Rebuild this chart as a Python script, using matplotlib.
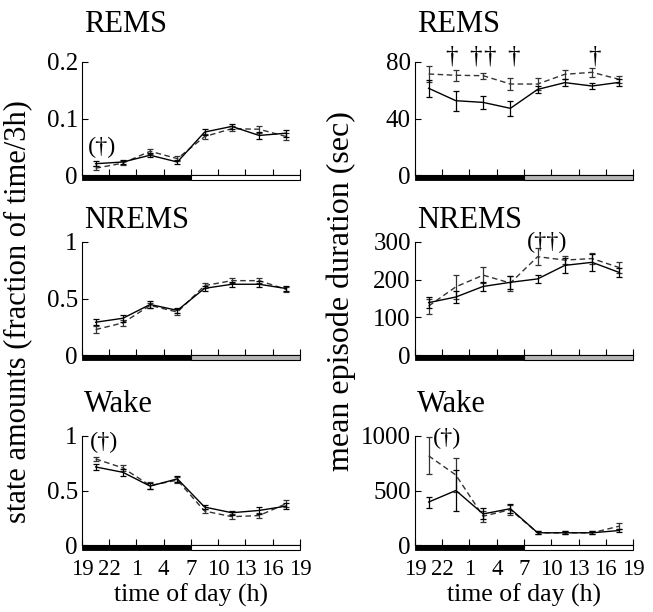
import matplotlib
matplotlib.use('Agg')
import matplotlib.pyplot as plt
from matplotlib.patches import Rectangle
from matplotlib.transforms import ScaledTranslation, blended_transform_factory

plt.rcParams['font.family'] = ['Liberation Serif', 'DejaVu Serif']

# ---- data ----
hours = [1.5, 4.5, 7.5, 10.5, 13.5, 16.5, 19.5, 22.5]
tick_pos = [0, 3, 6, 9, 12, 15, 18, 21, 24]
tick_labels = ['19', '22', '1', '4', '7', '10', '13', '16', '19']

rems_amt_solid = [0.020, 0.023, 0.035, 0.023, 0.076, 0.086, 0.070, 0.074]
rems_amt_solid_err = [0.004, 0.004, 0.004, 0.004, 0.005, 0.004, 0.006, 0.006]
rems_amt_dash = [0.012, 0.021, 0.042, 0.029, 0.068, 0.082, 0.081, 0.068]
rems_amt_dash_err = [0.004, 0.004, 0.004, 0.004, 0.004, 0.004, 0.006, 0.006]

nrems_amt_solid = [0.29, 0.325, 0.447, 0.395, 0.59, 0.626, 0.626, 0.588]
nrems_amt_solid_err = [0.025, 0.03, 0.03, 0.025, 0.02, 0.02, 0.025, 0.02]
nrems_amt_dash = [0.225, 0.284, 0.439, 0.38, 0.614, 0.658, 0.658, 0.58]
nrems_amt_dash_err = [0.03, 0.03, 0.025, 0.03, 0.02, 0.02, 0.02, 0.02]

wake_amt_solid = [0.716, 0.667, 0.54, 0.607, 0.348, 0.296, 0.317, 0.357]
wake_amt_solid_err = [0.025, 0.03, 0.03, 0.03, 0.02, 0.02, 0.03, 0.025]
wake_amt_dash = [0.79, 0.707, 0.546, 0.595, 0.311, 0.26, 0.27, 0.38]
wake_amt_dash_err = [0.02, 0.03, 0.03, 0.03, 0.02, 0.02, 0.025, 0.03]

rems_dur_solid = [61.4, 52.6, 51.4, 47.2, 60.6, 65.4, 63.0, 65.6]
rems_dur_solid_err = [6, 7, 4.5, 5.5, 2.5, 2.5, 2, 2.5]
rems_dur_dash = [71.5, 70.6, 70.3, 64.4, 64.4, 71.3, 72.7, 67.7]
rems_dur_dash_err = [5.5, 4, 2, 4, 4, 3, 3, 2.5]

nrems_dur_solid = [139, 154, 182, 193, 202, 238, 246, 219]
nrems_dur_solid_err = [15, 15, 12, 18, 10, 20, 22, 12]
nrems_dur_dash = [130, 181, 212, 191, 261, 252, 256, 232]
nrems_dur_dash_err = [20, 32, 22, 20, 22, 10, 15, 15]

wake_dur_solid = [394, 500, 285, 333, 112, 112, 112, 133]
wake_dur_solid_err = [50, 185, 50, 40, 12, 12, 12, 15]
wake_dur_dash = [818, 642, 264, 324, 112, 112, 112, 173]
wake_dur_dash_err = [170, 160, 50, 45, 12, 12, 12, 30]

# ---- figure ----
W, H = 653, 612
fig = plt.figure(figsize=(W / 100, H / 100), dpi=100)

col_left = [82, 415]
ax_w = 218
rows = [(62, 175), (242, 355), (436, 545)]

panels = [
    (0, 0, 'REMS', rems_amt_solid, rems_amt_solid_err, rems_amt_dash, rems_amt_dash_err,
     0.2, [0, 0.1, 0.2], ['0', '0.1', '0.2'], 'white'),
    (1, 0, 'NREMS', nrems_amt_solid, nrems_amt_solid_err, nrems_amt_dash, nrems_amt_dash_err,
     1, [0, 0.5, 1], ['0', '0.5', '1'], '#b5b5b5'),
    (2, 0, 'Wake', wake_amt_solid, wake_amt_solid_err, wake_amt_dash, wake_amt_dash_err,
     1, [0, 0.5, 1], ['0', '0.5', '1'], 'white'),
    (0, 1, 'REMS', rems_dur_solid, rems_dur_solid_err, rems_dur_dash, rems_dur_dash_err,
     80, [0, 40, 80], ['0', '40', '80'], '#b5b5b5'),
    (1, 1, 'NREMS', nrems_dur_solid, nrems_dur_solid_err, nrems_dur_dash, nrems_dur_dash_err,
     300, [0, 100, 200, 300], ['0', '100', '200', '300'], '#b5b5b5'),
    (2, 1, 'Wake', wake_dur_solid, wake_dur_solid_err, wake_dur_dash, wake_dur_dash_err,
     1000, [0, 500, 1000], ['0', '500', '1000'], 'white'),
]

title_gap = [30, 14, 24]
label_shift = [[-6.7, -13, -3.3, -4.7, -3.7, -2.3, -1.7, -0.7, 1.7],
               [-5.7, 2.3, 0, 0, 0, 0, 1.7, -1, -2.7]]

axes = {}
for (r, c, title, ys, yse, yd, yde, ymax, yt, ytl, lightfill) in panels:
    top, bot = rows[r]
    ax = fig.add_axes([col_left[c] / W, 1 - bot / H, ax_w / W, (bot - top) / H])
    axes[(r, c)] = ax
    ax.errorbar(hours, yd, yerr=yde, color='#333333', lw=1.0, ls=(0, (4, 2.5)),
                elinewidth=0.9, capsize=2.5, capthick=0.9, zorder=3)
    ax.errorbar(hours, ys, yerr=yse, color='black', lw=1.0, ls='-',
                elinewidth=0.9, capsize=2.5, capthick=0.9, zorder=4)
    ax.set_xlim(0, 24)
    ax.set_ylim(0, ymax)
    ax.set_yticks(yt)
    ax.set_yticklabels(ytl, fontsize=18)
    ax.set_xticks(tick_pos)
    if r == 2:
        ax.set_xticklabels(tick_labels, fontsize=16.5)
        for lab, dx in zip(ax.get_xticklabels(), label_shift[c]):
            lab.set_transform(lab.get_transform() +
                              ScaledTranslation(dx / 100, 0, fig.dpi_scale_trans))
        ax.set_xlabel('time of day (h)', fontsize=18.5, labelpad=3)
    else:
        ax.set_xticklabels([])
    ax.tick_params(axis='both', direction='in', length=4, width=0.8, pad=3)
    ax.tick_params(axis='x', pad=10)
    for s in ['top', 'right']:
        ax.spines[s].set_visible(False)
    ax.spines['left'].set_linewidth(0.8)
    ax.spines['bottom'].set_linewidth(0.8)
    ax.spines['left'].set_bounds(0, ymax)
    trans = blended_transform_factory(ax.transData, ax.transAxes)
    hfrac = 4.5 / (bot - top)
    ax.add_patch(Rectangle((0, -hfrac), 12, hfrac, transform=trans, facecolor='black',
                           edgecolor='black', lw=0.6, clip_on=False, zorder=5))
    ax.add_patch(Rectangle((12, -hfrac), 12, hfrac, transform=trans, facecolor=lightfill,
                           edgecolor='black', lw=0.8, clip_on=False, zorder=5))
    ax.text(0.01, 1 + title_gap[r] / (bot - top), title, transform=ax.transAxes,
            fontsize=22, ha='left', va='baseline')

axes[(0, 0)].text(2.2, 0.048, '(†)', fontsize=17.5, ha='center', va='center')
axes[(2, 0)].text(2.4, 0.94, '(†)', fontsize=17.5, ha='center', va='center')
axes[(2, 1)].text(3.5, 980, '(†)', fontsize=17.5, ha='center', va='center', clip_on=False)
axes[(1, 1)].text(14.6, 300, '(††)', fontsize=17.5, ha='center', va='center', clip_on=False)
for xd in [4.0, 6.7, 8.2, 10.8, 19.8]:
    axes[(0, 1)].text(xd, 84, '†', fontsize=18, ha='center', va='center', clip_on=False)

fig.text(18 / W, 1 - 312 / H, 'state amounts (fraction of time/3h)', rotation=90,
         fontsize=22, ha='center', va='center')
fig.text(341 / W, 1 - 291 / H, 'mean episode duration (sec)', rotation=90,
         fontsize=23, ha='center', va='center')

fig.savefig('out.png', dpi=100)
